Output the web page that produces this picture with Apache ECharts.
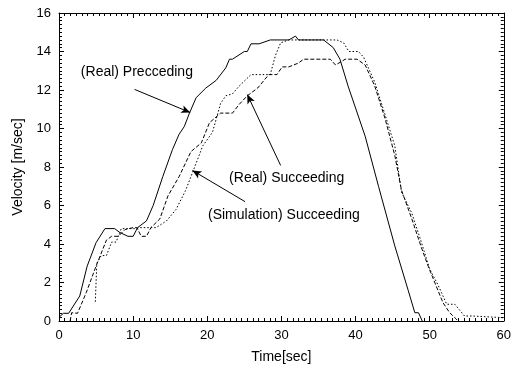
<!DOCTYPE html>
<html>
<head>
<meta charset="utf-8">
<script src="https://cdn.jsdelivr.net/npm/echarts@6/dist/echarts.min.js"></script>
<style>
    html, body { margin: 0; padding: 0; background: #fff; }
    #chart { width: 514px; height: 369px; }
</style>
</head>
<body>
<div id="chart"></div>
<script>
    // [time, velocity]
    let realPreceding = [
        [0, 0.2], [0.6, 0.4], [1.3, 0.4], [2.8, 1.3], [3.8, 2.85], [5, 4.07], [6.2, 4.8], [7.5, 4.8],
        [8.2, 4.6], [9.3, 4.4], [10, 4.4], [10.6, 4.85], [11.8, 5.2], [12.7, 6], [14, 7.5],
        [15.3, 8.9], [16.2, 9.7], [16.9, 10.1], [17.6, 10.8], [18.5, 11.6], [19.8, 12.1],
        [21.2, 12.5], [22.5, 13.15], [23, 13.6], [23.4, 13.6], [25, 14], [25.4, 14], [25.9, 14.4],
        [27, 14.4], [28.5, 14.6], [31, 14.6], [31.9, 14.8], [32.3, 14.6], [35.7, 14.6],
        [37, 14.2], [37.9, 13.6], [39, 12.2], [41.3, 9.6], [43.1, 7], [45.3, 3.9], [47.1, 1.6],
        [48, 0.43], [48.5, 0.43], [49, 0]
    ];
    let realSucceeding = [
        [1.5, 0], [1.7, 0.43], [2.5, 0.4], [3.7, 1.5], [5, 2.85], [6.4, 4.2], [7.1, 4.4], [8, 4.4],
        [8.9, 4.75], [10, 4.85], [10.5, 4.85], [11.1, 4.4], [11.8, 4.4], [12.4, 4.85], [13.6, 5.3],
        [14.7, 6.5], [16.2, 7.5], [17.8, 8.8], [19.2, 9.25], [20.3, 10.3], [21.8, 10.8],
        [23.4, 10.8], [24.3, 11.25], [25.4, 11.7], [26.8, 12.1], [28.3, 12.8], [29.4, 12.8],
        [30.1, 13.2], [31, 13.2], [32.3, 13.4], [33, 13.6], [36.6, 13.6], [37.3, 13.3],
        [38.2, 13.5], [38.6, 13.6], [40.2, 13.6], [41.3, 13.3], [42.6, 12.2], [44, 10.5],
        [45.3, 8.6], [46.2, 6.8], [47.6, 5.3], [48.9, 3.8], [49.8, 2.85], [50.9, 1.8],
        [51.8, 0.95], [52.7, 0.43], [53.6, 0.1], [53.8, 0]
    ];
    let simSucceeding = [
        [4.9, 1.0], [5.1, 3], [5.7, 3.4], [6.4, 3.4], [7.1, 4.1], [7.7, 4.1], [8.4, 4.8], [10.2, 4.8],
        [10.9, 4.85], [13.1, 4.85], [14.5, 5.2], [15.8, 5.8], [17.1, 6.8], [18.5, 8.2], [19.4, 9.1],
        [20.7, 9.8], [21.8, 11.3], [22.5, 11.7], [23.4, 11.8], [24.3, 12.2], [25.9, 12.8],
        [28.5, 12.8], [29.2, 13.8], [29.9, 14.45], [31, 14.6], [37.5, 14.6], [38.4, 14.45],
        [39.1, 14], [40.4, 14], [41.1, 13.7], [42.6, 12.4], [44, 10.7], [45.3, 9.1], [46.2, 6.7],
        [47.6, 5.6], [48.9, 4.07], [50, 2.7], [51.1, 1.9], [52.3, 0.87], [53.4, 0.87],
        [54.7, 0.26], [55.8, 0.26], [56, 0.17], [60, 0.17]
    ];

    // annotations: label text, label position, arrow from -> to
    let labelTexts = ['(Real) Precceding', '(Real) Succeeding', '(Simulation) Succeeding'];
    let labelPos = [[2.95, 12.96], [22.95, 7.46], [20.1, 5.54]];
    let arrows = [
        [[10.2, 12.03], [17.7, 10.83]],
        [[29.9, 8.08], [25.4, 11.76]],
        [[25.1, 6.2], [18.0, 7.82]]
    ];

    let font = 'Liberation Sans, Arial, Helvetica, sans-serif';
    let myChart = echarts.init(document.getElementById('chart'));

    function axisBase(split) {
        return {
            axisLine: {show: true, onZero: false, lineStyle: {color: '#000', width: 1}},
            axisTick: {show: true, inside: true, length: 5, lineStyle: {color: '#000'}},
            minorTick: {show: true, splitNumber: split, length: 3, lineStyle: {color: '#000'}},
            splitLine: {show: false},
            axisLabel: {show: false}
        };
    }

    let xBottom = Object.assign(axisBase(13), {
        type: 'value', min: 0, max: 60, interval: 10, position: 'bottom',
        name: 'Time[sec]', nameLocation: 'middle', nameGap: 29,
        nameTextStyle: {color: '#000', fontSize: 14, fontFamily: font},
        axisLabel: {show: true, color: '#000', fontSize: 13, fontFamily: font, margin: 8}
    });
    let xTop = Object.assign(axisBase(13), {type: 'value', min: 0, max: 60, interval: 10, position: 'top'});

    let yLeft = Object.assign(axisBase(10), {
        type: 'value', min: 0, max: 16, interval: 2, position: 'left',
        name: 'Velocity [m/sec]', nameLocation: 'middle', nameGap: 33,
        nameTextStyle: {color: '#000', fontSize: 14, fontFamily: font},
        axisLabel: {show: true, color: '#000', fontSize: 13, fontFamily: font, margin: 8}
    });
    let yRight = Object.assign(axisBase(10), {type: 'value', min: 0, max: 16, interval: 2, position: 'right'});

    let arrowLines = arrows.map(function (a) {
        return [{coord: a[0]}, {coord: a[1]}];
    });

    let option = {
        animation: false,
        backgroundColor: '#fff',
        grid: {left: 59, right: 8, top: 13, bottom: 47},
        xAxis: [xBottom, xTop],
        yAxis: [yLeft, yRight],
        series: [
            {
                name: '(Real) Precceding', type: 'line', data: realPreceding, showSymbol: false,
                lineStyle: {color: '#000', width: 1, type: 'solid'},
                markLine: {
                    silent: true, symbol: ['none', 'arrow'], symbolSize: [6, 9],
                    label: {show: false},
                    lineStyle: {color: '#000', width: 1, type: 'solid'},
                    data: arrowLines
                }
            },
            {
                name: '(Real) Succeeding', type: 'line', data: realSucceeding, showSymbol: false,
                lineStyle: {color: '#000', width: 1, type: [4, 2]}
            },
            {
                name: '(Simulation) Succeeding', type: 'line', data: simSucceeding, showSymbol: false,
                lineStyle: {color: '#000', width: 1, type: [1.5, 2]}
            }
        ]
    };
    myChart.setOption(option);

    // 注释文字
    let texts = labelTexts.map(function (t, i) {
        let p = myChart.convertToPixel({gridIndex: 0}, labelPos[i]);
        return {
            type: 'text', left: p[0], top: p[1] - 6, silent: true,
            style: {text: t, fill: '#000', font: '14px ' + font}
        };
    });
    myChart.setOption({graphic: texts});
</script>
</body>
</html>
